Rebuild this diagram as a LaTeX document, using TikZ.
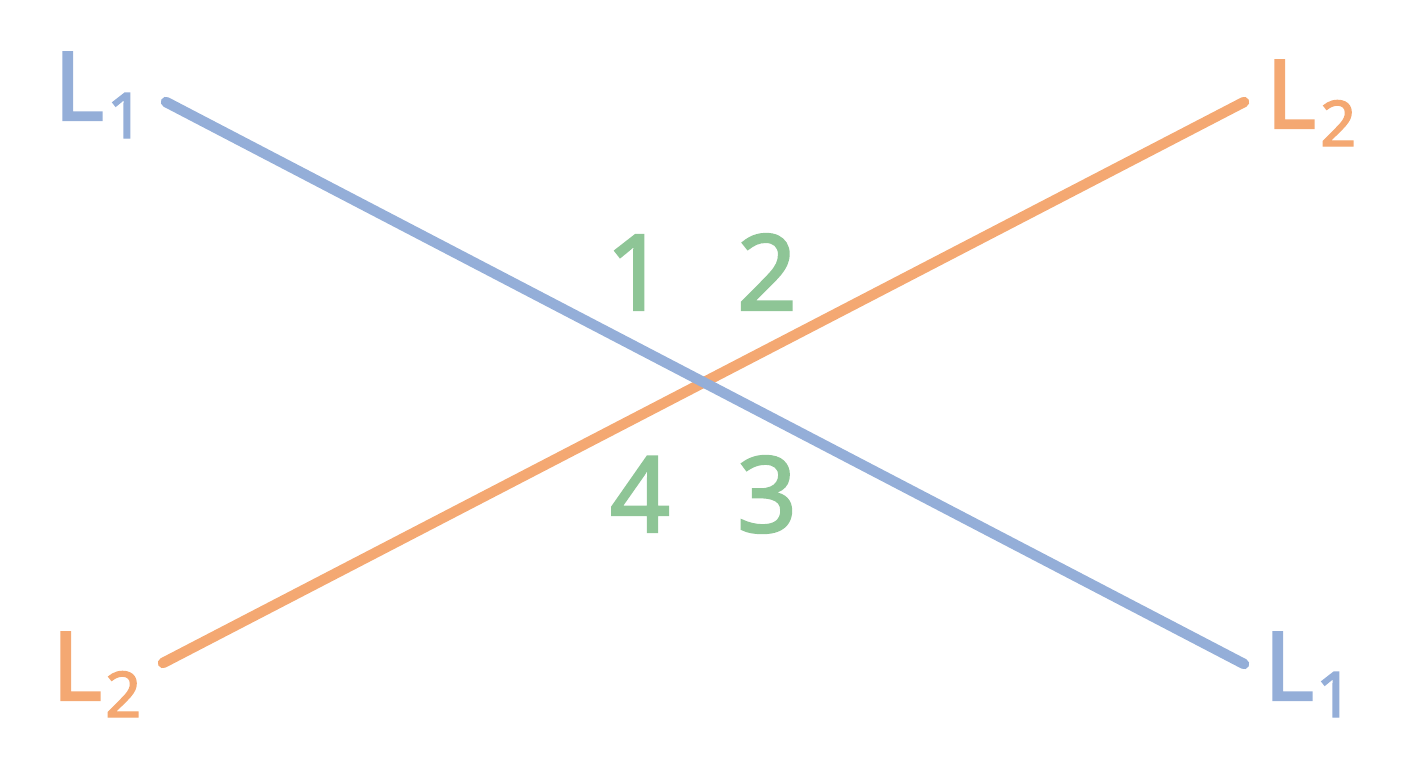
\documentclass[tikz,border=0pt]{standalone}
\usepackage{fontspec}
\setmainfont{Noto Sans}
\newfontfamily\medfont{Noto Sans}[FakeBold=2.2]
\definecolor{lblue}{HTML}{94AED8}
\definecolor{lorange}{HTML}{F4A872}
\definecolor{lgreen}{HTML}{8EC596}
\begin{document}
\begin{tikzpicture}[x=1pt,y=-1pt,
  bigL/.style={inner sep=0pt,anchor=base west,font=\medfont\fontsize{95}{95}\selectfont},
  subnum/.style={inner sep=0pt,anchor=base west,font=\medfont\fontsize{63}{63}\selectfont},
  region/.style={inner sep=0pt,anchor=base,text=lgreen,font=\medfont\fontsize{105}{105}\selectfont},
  lineone/.style={line width=10.5pt,draw=lblue,line cap=round},
  linetwo/.style={line width=10.5pt,draw=lorange,line cap=round}]
\useasboundingbox (0,0) rectangle (1408,768);
% line ends
\coordinate (a1) at (166,102);
\coordinate (b1) at (1244,664);
\coordinate (a2) at (163,663);
\coordinate (b2) at (1244,102);
\draw[linetwo] (a2) -- (b2);
\draw[lineone] (a1) -- (b1);
% labels
\node[bigL,text=lblue] (tlL) at (54,120) {L};
\node[subnum,text=lblue] (tlS) at (107,138) {1};
\node[bigL,text=lorange] (trL) at (1266,128) {L};
\node[subnum,text=lorange] (trS) at (1320,146) {2};
\node[bigL,text=lorange] (blL) at (52,700) {L};
\node[subnum,text=lorange] (blS) at (105,717) {2};
\node[bigL,text=lblue] (brL) at (1264,700) {L};
\node[subnum,text=lblue] (brS) at (1316,717) {1};
% regions
\node[region] (r1) at (636,310) {1};
\node[region] (r2) at (767,310) {2};
\node[region] (r4) at (640,532) {4};
\node[region] (r3) at (767,532) {3};
\end{tikzpicture}
\end{document}
